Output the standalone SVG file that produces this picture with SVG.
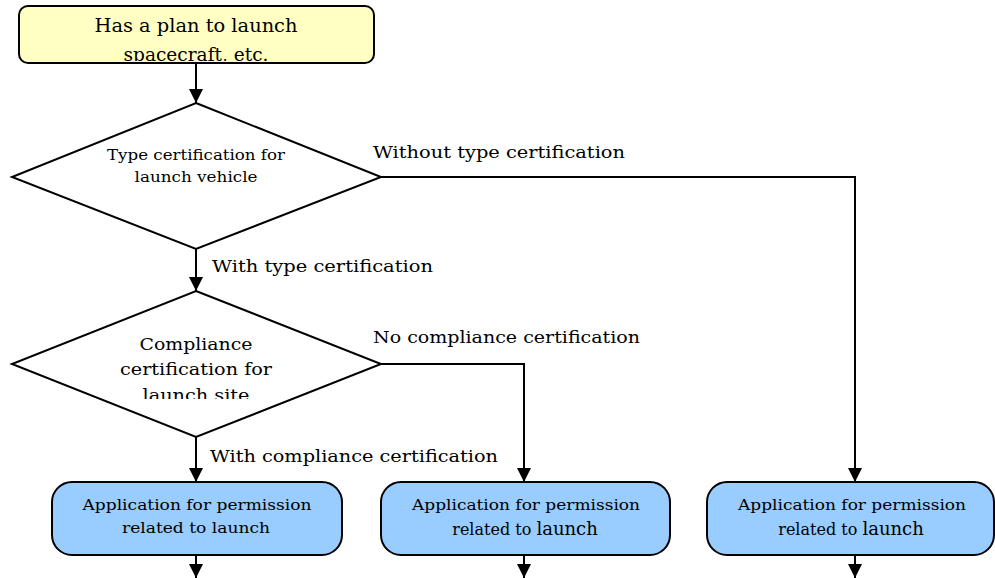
<svg xmlns="http://www.w3.org/2000/svg" width="995" height="578" viewBox="0 0 995 578">
<style>
.t{font-family:"DejaVu Serif","Liberation Serif",serif;fill:#000;}
.ln{fill:none;stroke:#000;stroke-width:2;}
.start{fill:#ffffc4;stroke:#000;stroke-width:2;}
.dec{fill:#fff;stroke:#000;stroke-width:2;}
.app{fill:#99ccff;stroke:#000;stroke-width:2;}
</style>
<defs>
<marker id="ah" markerWidth="14" markerHeight="14" viewBox="0 0 14 14" refX="14" refY="7" orient="auto" markerUnits="userSpaceOnUse">
<path d="M0,0 L14,7 L0,14 Z" fill="#000"/>
</marker>
<clipPath id="c1"><rect x="19" y="6" width="355" height="55"/></clipPath>
<clipPath id="c2"><rect x="0" y="290" width="400" height="109"/></clipPath>
</defs>
<g id="start">
<rect class="start" x="19" y="6" width="355" height="57" rx="9"/>
<g clip-path="url(#c1)">
<text class="t" x="196" y="32" font-size="19" text-anchor="middle" textLength="203" lengthAdjust="spacingAndGlyphs">Has a plan to launch</text>
<text class="t" x="196" y="61" font-size="19" text-anchor="middle" textLength="145" lengthAdjust="spacingAndGlyphs">spacecraft, etc.</text>
</g>
</g>
<g id="dec1">
<polygon class="dec" points="196,103 381,177 196,249 12,177"/>
<text class="t" x="196" y="160" font-size="15" text-anchor="middle" textLength="178" lengthAdjust="spacingAndGlyphs">Type certification for</text>
<text class="t" x="196" y="182" font-size="15" text-anchor="middle" textLength="123" lengthAdjust="spacingAndGlyphs">launch vehicle</text>
</g>
<g id="dec2">
<polygon class="dec" points="196,291 381,364 196,437 12,364"/>
<g clip-path="url(#c2)">
<text class="t" x="196" y="350" font-size="17" text-anchor="middle" textLength="113" lengthAdjust="spacingAndGlyphs">Compliance</text>
<text class="t" x="196" y="375" font-size="17" text-anchor="middle" textLength="152" lengthAdjust="spacingAndGlyphs">certification for</text>
<text class="t" x="196" y="401" font-size="17" text-anchor="middle" textLength="107" lengthAdjust="spacingAndGlyphs">launch site</text>
</g>
</g>
<g id="app1">
<rect class="app" x="52" y="482" width="290" height="73" rx="20"/>
<text class="t" x="197" y="510" font-size="15" text-anchor="middle" textLength="229" lengthAdjust="spacingAndGlyphs">Application for permission</text>
<text class="t" x="196" y="533" font-size="15" text-anchor="middle" textLength="148" lengthAdjust="spacingAndGlyphs">related to launch</text>
</g>
<g id="app2">
<rect class="app" x="381" y="482" width="289" height="73" rx="20"/>
<text class="t" x="526" y="510" font-size="15" text-anchor="middle" textLength="228" lengthAdjust="spacingAndGlyphs">Application for permission</text>
<text class="t" x="525" y="535" font-size="16" text-anchor="middle">related to <tspan font-size="18">launch</tspan></text>
</g>
<g id="app3">
<rect class="app" x="707" y="482" width="287" height="73" rx="20"/>
<text class="t" x="852" y="510" font-size="15" text-anchor="middle" textLength="228" lengthAdjust="spacingAndGlyphs">Application for permission</text>
<text class="t" x="851" y="535" font-size="16" text-anchor="middle">related to <tspan font-size="18">launch</tspan></text>
</g>
<g id="connectors">
<line class="ln" x1="196" y1="63" x2="196" y2="103" marker-end="url(#ah)"/>
<line class="ln" x1="196" y1="249" x2="196" y2="291" marker-end="url(#ah)"/>
<line class="ln" x1="196" y1="437" x2="196" y2="482" marker-end="url(#ah)"/>
<polyline class="ln" points="381,177 855,177 855,482" marker-end="url(#ah)"/>
<polyline class="ln" points="381,364 524,364 524,482" marker-end="url(#ah)"/>
<line class="ln" x1="196" y1="555" x2="196" y2="578" marker-end="url(#ah)"/>
<line class="ln" x1="524" y1="555" x2="524" y2="578" marker-end="url(#ah)"/>
<line class="ln" x1="855" y1="555" x2="855" y2="578" marker-end="url(#ah)"/>
<text class="t" x="373" y="158" font-size="17" textLength="252" lengthAdjust="spacingAndGlyphs">Without type certification</text>
<text class="t" x="212" y="272" font-size="17" textLength="221" lengthAdjust="spacingAndGlyphs">With type certification</text>
<text class="t" x="373" y="343" font-size="17" textLength="267" lengthAdjust="spacingAndGlyphs">No compliance certification</text>
<text class="t" x="210" y="462" font-size="17" textLength="288" lengthAdjust="spacingAndGlyphs">With compliance certification</text>
</g>
</svg>
